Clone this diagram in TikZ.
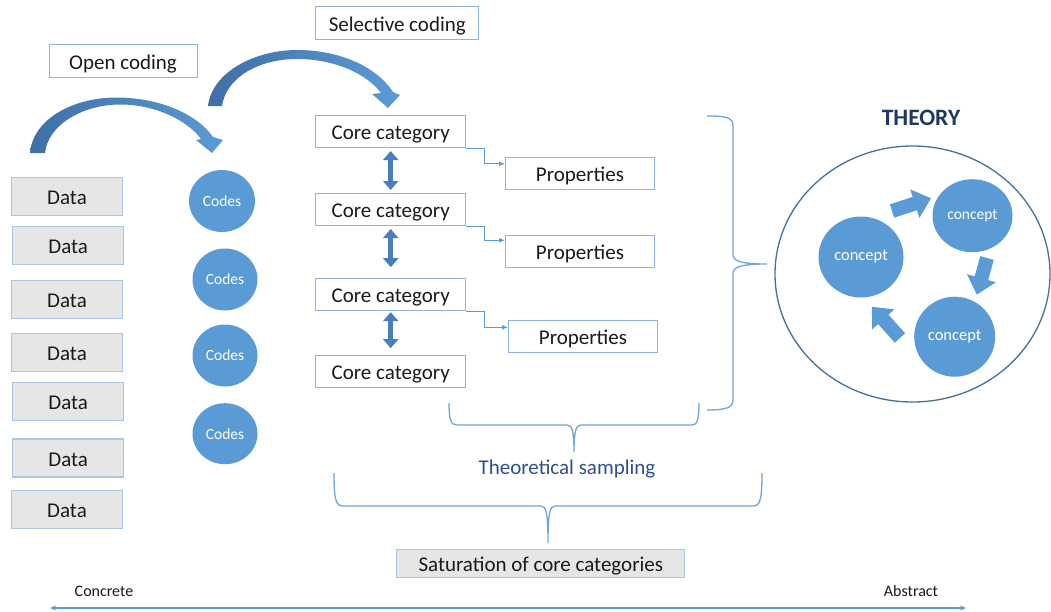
\documentclass[tikz,border=0pt]{standalone}
\usepackage{fontspec}
\setmainfont{Carlito}
\usetikzlibrary{arrows.meta,calc,shapes.geometric}

\definecolor{ink}{HTML}{1A1A1A}
\definecolor{boxline}{HTML}{8EB4E3}
\definecolor{dataline}{HTML}{A9C6E8}
\definecolor{datafill}{HTML}{E7E6E6}
\definecolor{dotblue}{HTML}{5B9BD5}
\definecolor{deepblue}{HTML}{3F6FA6}
\definecolor{shaftblue}{HTML}{4A7EBB}
\definecolor{ringline}{HTML}{41719C}
\definecolor{braceblue}{HTML}{6FA3DA}
\definecolor{navy}{HTML}{1F3864}
\definecolor{labelblue}{HTML}{2E4F8F}

\tikzset{
  txt/.style={font=\fontsize{21}{25}\selectfont, text=ink, text height=16pt, text depth=0pt},
  plainbox/.style={draw=boxline, line width=1pt, fill=white, inner sep=0pt, txt},
  databox/.style={draw=dataline, line width=1.3pt, fill=datafill, inner sep=0pt,
    minimum width=111pt, minimum height=38pt, txt},
  codedot/.style={ellipse, fill=dotblue, inner sep=0pt, text=white,
    font=\fontsize{15.5}{18}\selectfont},
  conceptdot/.style={ellipse, fill=dotblue, inner sep=0pt, text=white,
    font=\fontsize{16.5}{19}\selectfont},
  elbow/.style={draw=dotblue, line width=0.9pt, -{Latex[length=6pt,width=5pt]}},
  updown/.style={draw=shaftblue, line width=5.5pt,
    {Triangle[width=15pt,length=9pt]}-{Triangle[width=15pt,length=9pt]}},
  bracket/.style={draw=braceblue, line width=1.3pt},
  blockarrow/.pic={
    \fill[dotblue] (0,-7) -- (#1-17,-7) -- (#1-17,-15) -- (#1,0)
      -- (#1-17,15) -- (#1-17,7) -- (0,7) -- cycle;
  },
}

\begin{document}
\begin{tikzpicture}[x=1pt,y=-1pt]
\useasboundingbox (0,0) rectangle (1051,611);

% coding step labels
\node[plainbox, minimum width=148pt, minimum height=33pt] (open) at (123,61) {Open coding};
\node[plainbox, minimum width=163pt, minimum height=33pt] (selective) at (397.3,23.3) {Selective coding};

% curved arrow: data -> codes
\path[left color=deepblue, right color=dotblue]
  (30,153) .. controls (33,118) and (75,97) .. (118,97.5)
  .. controls (160,98) and (197,114) .. (213,137)
  -- (223,140) -- (212,153) -- (196,140) -- (201,139)
  .. controls (187,120) and (155,104.5) .. (120,104.5)
  .. controls (84,104.5) and (48,124) .. (45,153) -- cycle;

% curved arrow: codes -> core categories
\path[left color=deepblue, right color=dotblue]
  (208,106) .. controls (212,72) and (255,50) .. (297,50)
  .. controls (340,50) and (377,67) .. (393,92)
  -- (400,95) -- (388,108) -- (372,94) -- (381,93)
  .. controls (367,74) and (335,59) .. (297,59)
  .. controls (258,59) and (226,78) .. (222,106) -- cycle;

% raw data
\node[databox] (d1) at (67,196.7) {Data};
\node[databox] (d2) at (68.2,245.2) {Data};
\node[databox] (d3) at (67,299.7) {Data};
\node[databox] (d4) at (67,352.3) {Data};
\node[databox] (d5) at (68.2,401.3) {Data};
\node[databox] (d6) at (68.2,458) {Data};
\node[databox] (d7) at (67,509.7) {Data};

% codes
\node[codedot, minimum width=66pt, minimum height=62pt] (k1) at (222,201) {Codes};
\node[codedot, minimum width=65pt, minimum height=62pt] (k2) at (225,279.5) {Codes};
\node[codedot, minimum width=65pt, minimum height=62pt] (k3) at (225,355.5) {Codes};
\node[codedot, minimum width=65pt, minimum height=61pt] (k4) at (225,433.7) {Codes};

% core categories
\node[plainbox, minimum width=150pt, minimum height=32pt] (c1) at (390.7,131.5) {Core category};
\node[plainbox, minimum width=150pt, minimum height=32pt] (c2) at (390.7,209.5) {Core category};
\node[plainbox, minimum width=150pt, minimum height=32pt] (c3) at (390.7,294.7) {Core category};
\node[plainbox, minimum width=150pt, minimum height=32pt] (c4) at (390.7,371.7) {Core category};

% properties
\node[plainbox, minimum width=149pt, minimum height=32pt] (p1) at (580,173.8) {Properties};
\node[plainbox, minimum width=149pt, minimum height=32pt] (p2) at (580,251.3) {Properties};
\node[plainbox, minimum width=149pt, minimum height=32pt] (p3) at (583,336.3) {Properties};

% links between core categories
\draw[updown, shorten <=3pt, shorten >=3pt] (c1.south) -- (c2.north);
\draw[updown, shorten <=3pt, shorten >=11pt] (c2.south) -- (c3.north);
\draw[updown, shorten <=1pt, shorten >=7pt] (c3.south) -- (c4.north);

% core category -> properties
\draw[elbow] (c1.south east) -- ++(18,0) |- ($(p1.west)+(0,-10)$);
\draw[elbow] (c2.south east) -- ++(18,0) |- ($(p2.west)+(0,-11)$);
\draw[elbow] (c3.south east) -- ++(18,0) |- ($(p3.west)+(0,-9)$);

% brace gathering categories into theory
\draw[bracket] (707,116) .. controls (725,116) and (733,117) .. (733,126)
  -- (733,255) .. controls (733,262) and (745,264) .. (767,264)
  .. controls (745,264) and (733,266) .. (733,273)
  -- (733,400) .. controls (733,408) and (725,410) .. (707,410);

% theoretical sampling brace
\draw[bracket] (449,403) .. controls (449,420) and (451,425) .. (457,425)
  -- (567,425) .. controls (572,425) and (574,431) .. (574,452)
  .. controls (574,431) and (576,425) .. (581,425)
  -- (692,425) .. controls (697,425) and (699,420) .. (699,403);
\node[font=\fontsize{21}{25}\selectfont, text=labelblue] (sampling) at (567,469.5) {Theoretical sampling};

% saturation brace
\draw[bracket] (334,473) .. controls (334,500) and (336,506) .. (343,506)
  -- (541,506) .. controls (546,506) and (548,512) .. (548,543)
  .. controls (548,512) and (550,506) .. (555,506)
  -- (753,506) .. controls (760,506) and (762,500) .. (762,473);
\node[databox, minimum width=288pt, minimum height=28pt] (saturation) at (540.8,563.5) {Saturation of core categories};

% theory
\node[font=\fontsize{23.5}{28}\selectfont\bfseries, text=navy] (theory) at (921,118) {THEORY};
\node[draw=ringline, line width=1.3pt, ellipse, inner sep=0pt,
  minimum width=275pt, minimum height=256pt] (ring) at (912.5,274) {};
\node[conceptdot, minimum width=85pt, minimum height=81pt] (ca) at (861,257) {concept};
\node[conceptdot, minimum width=80pt, minimum height=73pt, font=\fontsize{15.5}{18}\selectfont] (cb) at (972.5,215.7) {concept};
\node[conceptdot, minimum width=81pt, minimum height=80pt] (cc) at (954.7,336.7) {concept};
\pic[rotate=18] at (892,211) {blockarrow=41};
\pic[rotate=-105.5] at (987,258) {blockarrow=38};
\pic[rotate=132] at (900,338) {blockarrow=42};

% concrete-abstract axis
\node[font=\fontsize{16}{19}\selectfont, text=ink] (concrete) at (104,591) {Concrete};
\node[font=\fontsize{16}{19}\selectfont, text=ink] (abstract) at (911,591) {Abstract};
\coordinate (axisL) at (50,608);
\coordinate (axisR) at (966,608);
\draw[draw=dotblue, line width=1.5pt, {Stealth[length=6pt,width=5pt]}-{Stealth[length=6pt,width=5pt]}] (axisL) -- (axisR);
\end{tikzpicture}
\end{document}
